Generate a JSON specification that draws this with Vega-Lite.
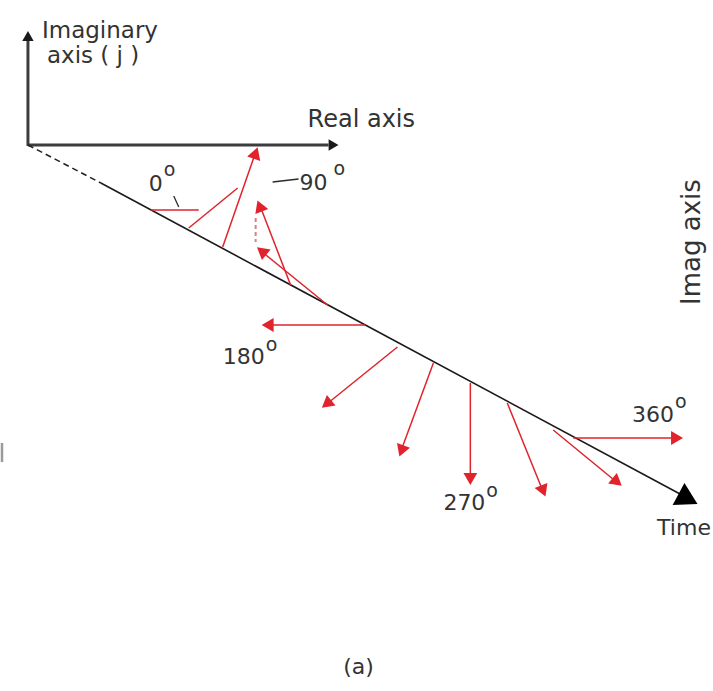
{
  "$schema": "https://vega.github.io/schema/vega-lite/v6.json",
  "autosize": {"type": "fit", "contains": "padding"},
  "width": 713,
  "height": 691,
  "padding": 0,
  "background": "white",
  "config": {"view": {"stroke": null}, "font": "DejaVu Sans"},
  "datasets": {
    "segments": [
      {"role": "axis", "x": 27, "y": 146, "x2": 27, "y2": 40},
      {"role": "axis", "x": 27, "y": 145, "x2": 328, "y2": 145},
      {"role": "dashed", "x": 27, "y": 145, "x2": 100, "y2": 183},
      {"role": "time", "x": 100, "y": 183, "x2": 680, "y2": 494},
      {"role": "phasor", "x": 150, "y": 210, "x2": 198, "y2": 210},
      {"role": "phasor", "x": 188, "y": 228, "x2": 237, "y2": 188},
      {"role": "phasor", "x": 222, "y": 247, "x2": 253, "y2": 158},
      {"role": "phasor", "x": 290, "y": 285, "x2": 261, "y2": 210},
      {"role": "phasor", "x": 327, "y": 305, "x2": 264, "y2": 254},
      {"role": "phasor", "x": 365, "y": 325, "x2": 272, "y2": 325},
      {"role": "phasor", "x": 397, "y": 347, "x2": 330, "y2": 401},
      {"role": "phasor", "x": 433, "y": 363, "x2": 402, "y2": 447},
      {"role": "phasor", "x": 470, "y": 383, "x2": 470, "y2": 474},
      {"role": "phasor", "x": 507, "y": 403, "x2": 541, "y2": 487},
      {"role": "phasor", "x": 553, "y": 430, "x2": 614, "y2": 480},
      {"role": "phasor", "x": 573, "y": 438, "x2": 672, "y2": 438},
      {"role": "dashphasor", "x": 255, "y": 218, "x2": 255, "y2": 242},
      {"role": "leader", "x": 173, "y": 196, "x2": 178, "y2": 207},
      {"role": "leader", "x": 272, "y": 182, "x2": 298, "y2": 179},
      {"role": "fragment", "x": 1, "y": 443, "x2": 1, "y2": 462}
    ],
    "heads": [
      {"role": "red", "x": 255, "y": 153, "dir": 71},
      {"role": "red", "x": 259, "y": 206, "dir": 111},
      {"role": "red", "x": 261, "y": 251, "dir": 141},
      {"role": "red", "x": 267, "y": 325, "dir": 180},
      {"role": "red", "x": 326, "y": 404, "dir": 219},
      {"role": "red", "x": 401, "y": 451, "dir": 250},
      {"role": "red", "x": 470, "y": 479, "dir": 270},
      {"role": "red", "x": 543, "y": 491, "dir": 292},
      {"role": "red", "x": 617, "y": 482, "dir": 321},
      {"role": "red", "x": 677, "y": 438, "dir": 360},
      {"role": "axis", "x": 333, "y": 145, "dir": 0},
      {"role": "axis", "x": 27, "y": 36, "dir": 90},
      {"role": "time", "x": 688, "y": 499, "dir": 331.8}
    ],
    "labels": [
      {"role": "title", "x": 41, "y": 31, "text": "Imaginary"},
      {"role": "title", "x": 46, "y": 56, "text": "axis ( j )"},
      {"role": "big", "x": 307, "y": 120, "text": "Real axis"},
      {"role": "num", "x": 148, "y": 184, "text": "0"},
      {"role": "sup", "x": 163, "y": 170, "text": "o"},
      {"role": "num", "x": 299, "y": 183, "text": "90"},
      {"role": "sup", "x": 333, "y": 169, "text": "o"},
      {"role": "num", "x": 222, "y": 357, "text": "180"},
      {"role": "sup", "x": 265, "y": 345, "text": "o"},
      {"role": "num", "x": 443, "y": 503, "text": "270"},
      {"role": "sup", "x": 486, "y": 491, "text": "o"},
      {"role": "num", "x": 632, "y": 415, "text": "360"},
      {"role": "sup", "x": 675, "y": 402, "text": "o"},
      {"role": "time", "x": 657, "y": 528, "text": "Time"},
      {"role": "paren", "x": 358, "y": 667, "text": "(a)"}
    ],
    "vlabels": [
      {"x": 692, "y": 242, "text": "Imag axis"}
    ]
  },
  "encoding": {
    "x": {"field": "x", "type": "quantitative", "scale": {"domain": [0, 713], "nice": false, "zero": false}, "axis": null},
    "y": {"field": "y", "type": "quantitative", "scale": {"domain": [0, 691], "nice": false, "zero": false, "reverse": true}, "axis": null}
  },
  "layer": [
    {
      "data": {"name": "segments"},
      "transform": [{"filter": "datum.role === 'fragment'"}],
      "mark": {"type": "rule", "color": "#9a9a9a", "strokeWidth": 2.5},
      "encoding": {"x2": {"field": "x2"}, "y2": {"field": "y2"}}
    },
    {
      "data": {"name": "segments"},
      "transform": [{"filter": "datum.role === 'axis'"}],
      "mark": {"type": "rule", "color": "#3d3d3d", "strokeWidth": 3},
      "encoding": {"x2": {"field": "x2"}, "y2": {"field": "y2"}}
    },
    {
      "data": {"name": "segments"},
      "transform": [{"filter": "datum.role === 'dashed'"}],
      "mark": {"type": "rule", "color": "#222", "strokeWidth": 1.5, "strokeDash": [6, 4]},
      "encoding": {"x2": {"field": "x2"}, "y2": {"field": "y2"}}
    },
    {
      "data": {"name": "segments"},
      "transform": [{"filter": "datum.role === 'time'"}],
      "mark": {"type": "rule", "color": "#1a1a1a", "strokeWidth": 1.6},
      "encoding": {"x2": {"field": "x2"}, "y2": {"field": "y2"}}
    },
    {
      "data": {"name": "segments"},
      "transform": [{"filter": "datum.role === 'phasor'"}],
      "mark": {"type": "rule", "color": "#e0232c", "strokeWidth": 1.5},
      "encoding": {"x2": {"field": "x2"}, "y2": {"field": "y2"}}
    },
    {
      "data": {"name": "segments"},
      "transform": [{"filter": "datum.role === 'dashphasor'"}],
      "mark": {"type": "rule", "color": "#d98080", "strokeWidth": 2, "strokeDash": [4, 3]},
      "encoding": {"x2": {"field": "x2"}, "y2": {"field": "y2"}}
    },
    {
      "data": {"name": "segments"},
      "transform": [{"filter": "datum.role === 'leader'"}],
      "mark": {"type": "rule", "color": "#2a2a2a", "strokeWidth": 1.3},
      "encoding": {"x2": {"field": "x2"}, "y2": {"field": "y2"}}
    },
    {
      "data": {"name": "heads"},
      "transform": [{"filter": "datum.role === 'red'"}],
      "mark": {"type": "point", "shape": "triangle-up", "filled": true, "color": "#e0232c", "size": 190, "opacity": 1},
      "encoding": {"angle": {"field": "dir", "type": "quantitative", "scale": {"domain": [0, 360], "range": [90, -270]}, "legend": null}}
    },
    {
      "data": {"name": "heads"},
      "transform": [{"filter": "datum.role === 'axis'"}],
      "mark": {"type": "point", "shape": "triangle-up", "filled": true, "color": "#1a1a1a", "size": 130, "opacity": 1},
      "encoding": {"angle": {"field": "dir", "type": "quantitative", "scale": {"domain": [0, 360], "range": [90, -270]}, "legend": null}}
    },
    {
      "data": {"name": "heads"},
      "transform": [{"filter": "datum.role === 'time'"}],
      "mark": {"type": "point", "shape": "triangle-up", "filled": true, "color": "#000000", "size": 620, "opacity": 1},
      "encoding": {"angle": {"field": "dir", "type": "quantitative", "scale": {"domain": [0, 360], "range": [90, -270]}, "legend": null}}
    },
    {
      "data": {"name": "labels"},
      "transform": [{"filter": "datum.role === 'title'"}],
      "mark": {"type": "text", "align": "left", "baseline": "middle", "fontSize": 23, "color": "#333333"},
      "encoding": {"text": {"field": "text"}}
    },
    {
      "data": {"name": "labels"},
      "transform": [{"filter": "datum.role === 'num'"}],
      "mark": {"type": "text", "align": "left", "baseline": "middle", "fontSize": 22, "color": "#333333"},
      "encoding": {"text": {"field": "text"}}
    },
    {
      "data": {"name": "labels"},
      "transform": [{"filter": "datum.role === 'big'"}],
      "mark": {"type": "text", "align": "left", "baseline": "middle", "fontSize": 24, "color": "#333333"},
      "encoding": {"text": {"field": "text"}}
    },
    {
      "data": {"name": "labels"},
      "transform": [{"filter": "datum.role === 'time'"}],
      "mark": {"type": "text", "align": "left", "baseline": "middle", "fontSize": 22, "color": "#333333"},
      "encoding": {"text": {"field": "text"}}
    },
    {
      "data": {"name": "labels"},
      "transform": [{"filter": "datum.role === 'paren'"}],
      "mark": {"type": "text", "align": "center", "baseline": "middle", "fontSize": 22, "color": "#333333"},
      "encoding": {"text": {"field": "text"}}
    },
    {
      "data": {"name": "labels"},
      "transform": [{"filter": "datum.role === 'sup'"}],
      "mark": {"type": "text", "align": "left", "baseline": "middle", "fontSize": 19, "color": "#333333"},
      "encoding": {"text": {"field": "text"}}
    },
    {
      "data": {"name": "vlabels"},
      "mark": {"type": "text", "align": "center", "baseline": "middle", "fontSize": 26, "angle": 270, "color": "#333333"},
      "encoding": {"text": {"field": "text"}}
    }
  ]
}
